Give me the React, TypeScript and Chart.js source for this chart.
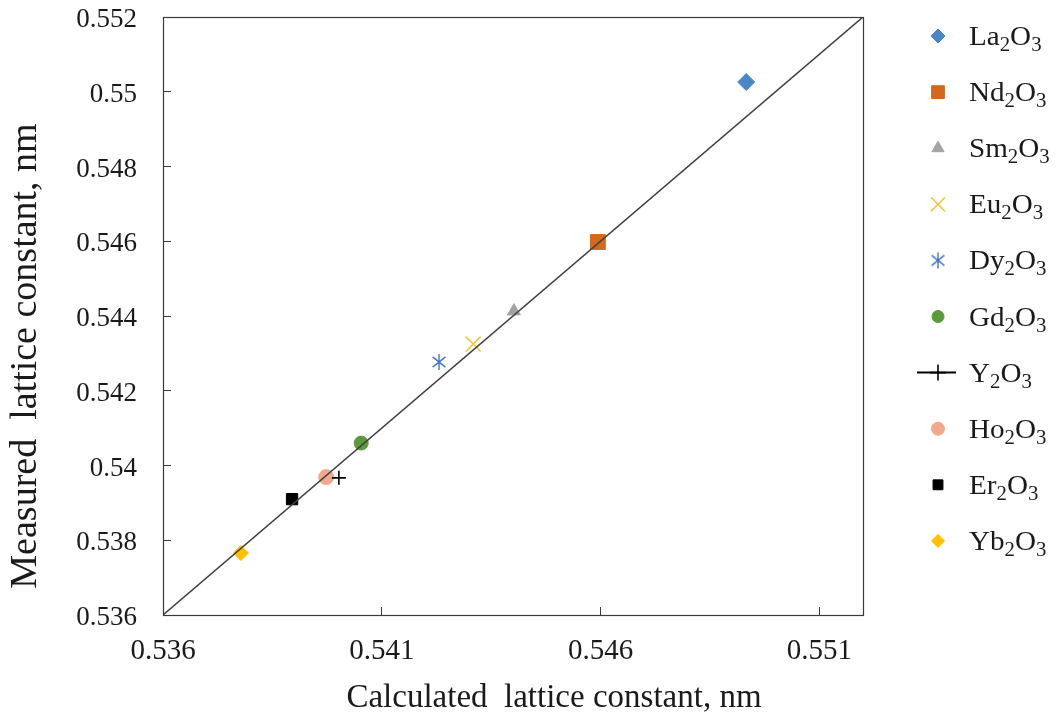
import React, { useEffect, useRef } from "react";
import { Chart, registerables, PointElement } from "chart.js";

Chart.register(...registerables);

// ---- data ----
const NAMES = ["La₂O₃", "Nd₂O₃", "Sm₂O₃", "Eu₂O₃", "Dy₂O₃", "Gd₂O₃", "Y₂O₃", "Ho₂O₃", "Er₂O₃", "Yb₂O₃"];
const CALCULATED = [0.54933, 0.54594, 0.54402, 0.54309, 0.54231, 0.54053, 0.54002, 0.53973, 0.53895, 0.53778];
const MEASURED = [0.55026, 0.54598, 0.54413, 0.54325, 0.54277, 0.5406, 0.53967, 0.53969, 0.5391, 0.53766];
const LINE_X = [0.536, 0.552];
const LINE_Y = [0.536, 0.552];
const X_TICKS = [0.536, 0.541, 0.546, 0.551];
const Y_TICKS = [0.536, 0.538, 0.54, 0.542, 0.544, 0.546, 0.548, 0.55, 0.552];
const X_TITLE = "Calculated  lattice constant, nm";
const Y_TITLE = "Measured  lattice constant, nm";

// ---- styles ----
const COLORS = ["#4a87c6", "#d2691e", "#a3a3a3", "#f7c244", "#4472c4", "#5b9a3c", "#000000", "#f2a88e", "#000000", "#ffc000"];
const FONT = '"Liberation Serif", "Times New Roman", serif';
const AXIS_COLOR = "#3a3a3a";
const W = 1041;
const H = 704;
const PLOT_TOP = 9;
const PLOT_RIGHT = 855;

function asteriskImage(color: string, r: number) {
  const size = Math.ceil(r * 2 + 4);
  const c = document.createElement("canvas");
  c.width = size;
  c.height = size;
  const g = c.getContext("2d")!;
  const m = size / 2;
  g.strokeStyle = color;
  g.lineWidth = 1.4;
  g.beginPath();
  g.moveTo(m, m - r);
  g.lineTo(m, m + r);
  const d = r * 0.8;
  g.moveTo(m - d, m - d * 0.8);
  g.lineTo(m + d, m + d * 0.8);
  g.moveTo(m - d, m + d * 0.8);
  g.lineTo(m + d, m - d * 0.8);
  g.stroke();
  return c;
}

const STYLES: any[] = [
  { pointStyle: "rectRot", radius: 8.5, legendRadius: 7 },
  { pointStyle: "rect", radius: 10.5, legendRadius: 9 },
  { pointStyle: "triangle", radius: 7.5, legendRadius: 7 },
  { pointStyle: "crossRot", radius: 10.5, legendRadius: 10, borderWidth: 1.5 },
  { pointStyle: "asterisk", radius: 8, legendRadius: 8 },
  { pointStyle: "circle", radius: 7, legendRadius: 6 },
  { pointStyle: "cross", radius: 7, legendRadius: 8, borderWidth: 1.6 },
  { pointStyle: "circle", radius: 7.5, legendRadius: 6.5 },
  { pointStyle: "rect", radius: 8, legendRadius: 7 },
  { pointStyle: "rectRot", radius: 7.5, legendRadius: 6.5 },
];

const SUBS = "₀₁₂₃₄₅₆₇₈₉";

function drawFormula(ctx: CanvasRenderingContext2D, text: string, x: number, y: number) {
  const runs: { sub: boolean; t: string }[] = [];
  for (const ch of text) {
    const i = SUBS.indexOf(ch);
    const sub = i >= 0;
    const t = sub ? String(i) : ch;
    if (runs.length && runs[runs.length - 1].sub === sub) runs[runs.length - 1].t += t;
    else runs.push({ sub, t });
  }
  ctx.save();
  ctx.translate(x, y);
  ctx.scale(1.04, 1);
  let cx = 0;
  ctx.textBaseline = "alphabetic";
  ctx.textAlign = "left";
  for (const r of runs) {
    ctx.font = r.sub ? `20px ${FONT}` : `28px ${FONT}`;
    ctx.fillText(r.t, cx, r.sub ? 15 : 9);
    cx += ctx.measureText(r.t).width;
  }
  ctx.restore();
}

const overlay = {
  id: "overlay",
  afterDraw(chart: any) {
    const { ctx, chartArea: a } = chart;
    ctx.save();
    // frame
    ctx.strokeStyle = AXIS_COLOR;
    ctx.lineWidth = 1.2;
    ctx.strokeRect(Math.round(a.left) + 0.5, Math.round(a.top) + 0.5, Math.round(a.right - a.left), Math.round(a.bottom - a.top));

    // axis titles
    ctx.fillStyle = "#1a1a1a";
    ctx.font = `33px ${FONT}`;
    ctx.textAlign = "center";
    ctx.textBaseline = "middle";
    ctx.fillText(X_TITLE, 546, 690);
    ctx.save();
    ctx.translate(18, 348);
    ctx.rotate(-Math.PI / 2);
    ctx.font = `38px ${FONT}`;
    ctx.fillText(Y_TITLE, 0, 0);
    ctx.restore();

    // legend
    const top = 28;
    const step = 56.1;
    NAMES.forEach((name, i) => {
      const ds = chart.data.datasets[i + 1];
      const y = top + i * step;
      const st = STYLES[i];
      if (st.pointStyle === "cross") {
        ctx.strokeStyle = COLORS[i];
        ctx.lineWidth = 2;
        ctx.beginPath();
        ctx.moveTo(909, y);
        ctx.lineTo(948, y);
        ctx.stroke();
      }
      const el: any = new PointElement({} as any);
      el.x = 930;
      el.y = y;
      el.options = {
        pointStyle: ds.pointStyle,
        rotation: 0,
        radius: st.legendRadius,
        borderWidth: ds.borderWidth,
        backgroundColor: ds.backgroundColor,
        borderColor: ds.borderColor,
      };
      el.draw(ctx);
      ctx.fillStyle = "#1a1a1a";
      drawFormula(ctx, name, 961, y);
    });
    ctx.restore();
  },
};

export default function App() {
  const ref = useRef<HTMLCanvasElement>(null);
  useEffect(() => {
    if (!ref.current) return;
    const datasets: any[] = [
      {
        label: "y = x",
        data: LINE_X.map((x, i) => ({ x, y: LINE_Y[i] })),
        showLine: true,
        borderColor: "#404040",
        borderWidth: 1.5,
        pointRadius: 0,
        fill: false,
      },
      ...NAMES.map((name, i) => {
        const st = STYLES[i];
        const ps = st.pointStyle === "asterisk" ? asteriskImage(COLORS[i], st.radius) : st.pointStyle;
        return {
          label: name,
          data: [{ x: CALCULATED[i], y: MEASURED[i] }],
          pointStyle: ps,
          pointRadius: st.radius,
          backgroundColor: COLORS[i],
          borderColor: COLORS[i],
          borderWidth: st.borderWidth ?? 1,
          showLine: false,
        };
      }),
    ];
    const chart = new Chart(ref.current, {
      type: "scatter",
      data: { datasets },
      options: {
        animation: false,
        responsive: false,
        layout: { autoPadding: false, padding: { top: PLOT_TOP, right: W - PLOT_RIGHT, left: 0, bottom: 0 } },
        plugins: {
          legend: { display: false },
          tooltip: { enabled: false },
        },
        scales: {
          x: {
            type: "linear",
            min: 0.536,
            max: 0.552,
            afterBuildTicks: (s: any) => {
              s.ticks = X_TICKS.map((v) => ({ value: v }));
            },
            afterFit: (s: any) => {
              s.height = 97;
              s.paddingLeft = 0;
              s.paddingRight = 0;
              s.paddingTop = 0;
              s.paddingBottom = 0;
            },
            border: { display: false },
            grid: { drawOnChartArea: false, drawTicks: true, tickLength: -8, color: AXIS_COLOR, lineWidth: 1 },
            ticks: {
              padding: 27,
              color: "#1a1a1a",
              font: { family: FONT, size: 29 },
              maxRotation: 0,
              callback: (v: any) => Number(v).toFixed(3),
            },
          },
          y: {
            type: "linear",
            min: 0.536,
            max: 0.552,
            afterBuildTicks: (s: any) => {
              s.ticks = Y_TICKS.map((v) => ({ value: v }));
            },
            afterFit: (s: any) => {
              s.width = 155;
              s.paddingLeft = 0;
              s.paddingRight = 0;
              s.paddingTop = 0;
              s.paddingBottom = 0;
            },
            border: { display: false },
            grid: { drawOnChartArea: false, drawTicks: true, tickLength: -8, color: AXIS_COLOR, lineWidth: 1 },
            ticks: {
              padding: 34,
              labelOffset: 3,
              color: "#1a1a1a",
              font: { family: FONT, size: 27 },
              callback: (v: any) => String(Number(Number(v).toFixed(3))),
            },
          },
        },
      },
      plugins: [overlay],
    });
    return () => chart.destroy();
  }, []);
  return <canvas ref={ref} width={W} height={H} style={{ display: "block", width: W, height: H }} />;
}
